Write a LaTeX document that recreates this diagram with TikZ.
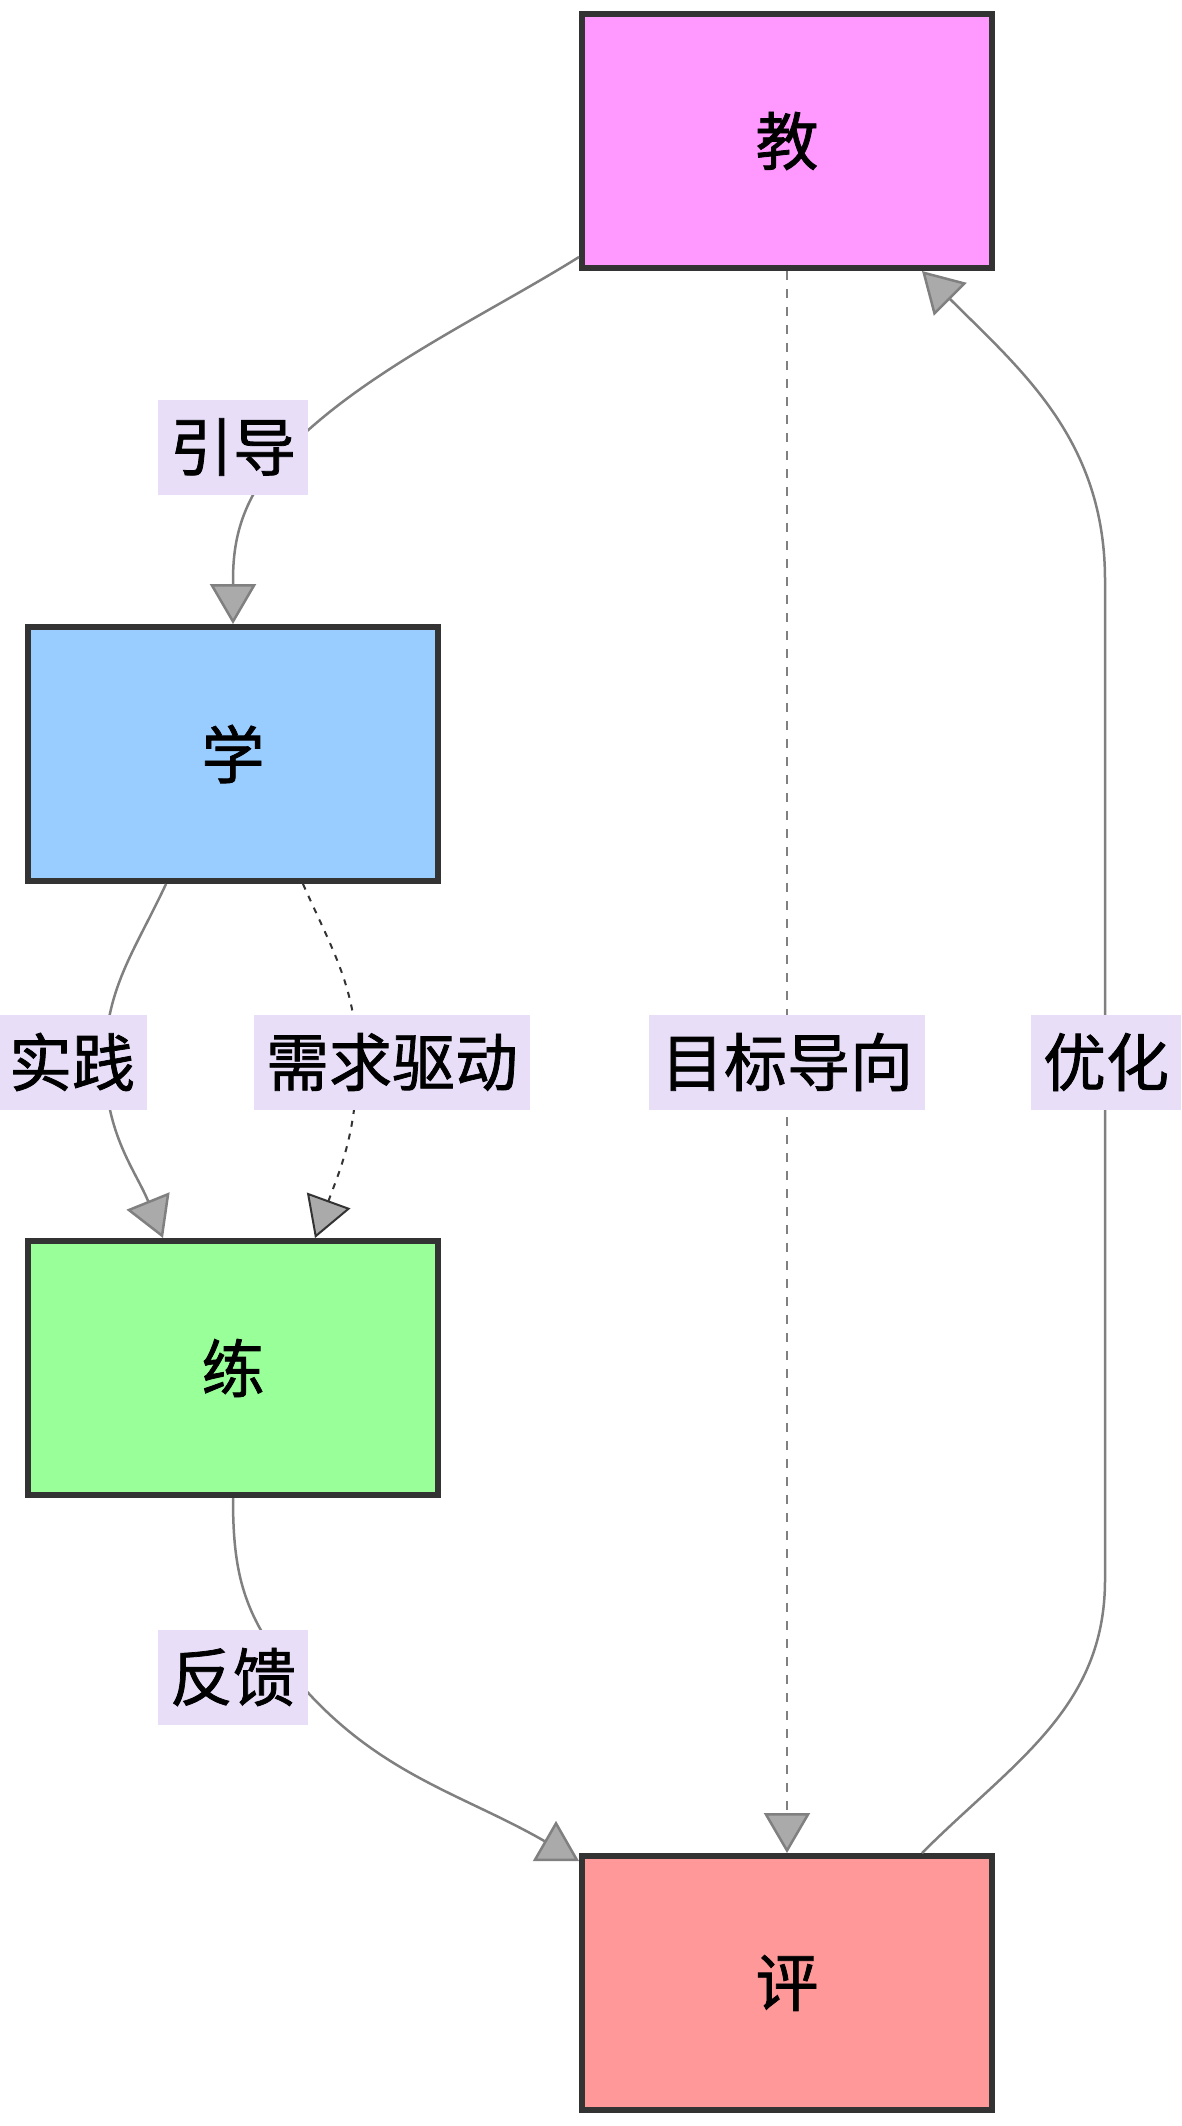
\documentclass[tikz,border=0pt]{standalone}
\usepackage{fontspec}
\usepackage{tikz}
\usetikzlibrary{arrows.meta, positioning}
\newfontfamily\cjk[FakeBold=1.2]{Noto Sans CJK SC}
\definecolor{jiaoc}{HTML}{FF99FF}
\definecolor{xuec}{HTML}{99CCFF}
\definecolor{lianc}{HTML}{99FF99}
\definecolor{pingc}{HTML}{FF9999}
\definecolor{edgec}{HTML}{333333}
\definecolor{lblc}{HTML}{E8DEF8}
\definecolor{linec}{HTML}{808080}
\definecolor{tipc}{HTML}{AAAAAA}

\begin{document}
\begin{tikzpicture}[
  x=1pt, y=1pt,
  box/.style={rectangle, draw=edgec, line width=6pt, minimum width=410pt, minimum height=254pt, inner sep=0pt},
  lbl/.style={fill=lblc, minimum height=95pt, inner xsep=12pt, inner ysep=0pt},
  arr/.style={-{Triangle[length=40pt, width=46pt, fill=tipc]}, draw=linec, line width=2.5pt},
  dsh/.style={arr, draw=edgec, line width=2pt, dash pattern=on 6pt off 7pt},
  tdsh/.style={arr, dash pattern=on 9pt off 9pt},
  font=\cjk\fontsize{63}{72}\selectfont
]
\useasboundingbox (0,0) rectangle (1181,-2126);
\node[box, fill=jiaoc] (jiao) at (787,-141) {教};
\node[box, fill=xuec, below left=353pt and 138pt of jiao] (xue) {学};
\node[box, fill=lianc, below=354pt of xue] (lian) {练};
\node[box, fill=pingc, below right=355pt and 138pt of lian] (ping) {评};
% waypoints
\coordinate (w1) at (278,-460);
\coordinate (w2) at (105,-1062);
\coordinate (w3) at (357,-1062);
\coordinate (w5) at (280,-1659);
\coordinate (w6a) at (1105,-1580);
\coordinate (w6b) at (1105,-580);
\draw[arr] ([yshift=14pt]jiao.south west) to[out=212, in=48, looseness=0.8] (w1) to[out=228, in=90] (xue.north);
\draw[arr] ([xshift=-67pt]xue.south) to[out=-115, in=90] (w2) to[out=-90, in=112] ([xshift=-70pt]lian.north);
\draw[dsh] ([xshift=70pt]xue.south) to[out=-66, in=90] (w3) to[out=-90, in=70] ([xshift=82pt]lian.north);
\draw[tdsh] (jiao.south) -- (ping.north);
\draw[arr] (lian.south) to[out=-90, in=127] (w5) to[out=-53, in=150] ([yshift=-8pt]ping.north west);
\draw[arr] ([xshift=135pt]ping.north) to[out=45, in=-90] (w6a) -- (w6b) to[out=90, in=-45] ([xshift=135pt]jiao.south);
\node[lbl] (l1) at (233,-447) {引导};
\node[lbl] (l2) at (72,-1062) {实践};
\node[lbl] (l3) at (392,-1062) {需求驱动};
\node[lbl] (l4) at (787,-1062) {目标导向};
\node[lbl] (l5) at (1106,-1062) {优化};
\node[lbl] (l6) at (233,-1677) {反馈};
\end{tikzpicture}
\end{document}
